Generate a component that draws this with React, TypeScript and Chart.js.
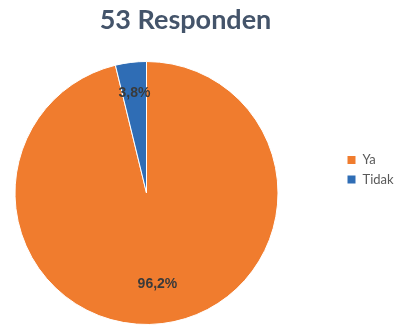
import React, { useEffect, useRef } from "react";
import { Chart, registerables } from "chart.js";

Chart.register(...registerables);

const titleText = "53 Responden";
const categories = ["Ya", "Tidak"];
const values = [96.2, 3.8];
const sliceColors = ["#F07C2E", "#2F6DB5"];
const labelRadiusFrac = [0.7, 0.765];

const sliceLabelPlugin = {
  id: "sliceLabels",
  afterDatasetsDraw(chart: any) {
    const ctx = chart.ctx;
    const meta = chart.getDatasetMeta(0);
    ctx.save();
    ctx.font = "bold 14px 'Liberation Sans', Arial, sans-serif";
    ctx.fillStyle = "#3a3a3a";
    ctx.textAlign = "center";
    ctx.textBaseline = "middle";
    meta.data.forEach((arc: any, i: number) => {
      const p = arc.getProps(["x", "y", "startAngle", "endAngle", "outerRadius"], true);
      const mid = (p.startAngle + p.endAngle) / 2;
      const r = p.outerRadius * labelRadiusFrac[i];
      const txt = values[i].toFixed(1).replace(".", ",") + "%";
      ctx.fillText(txt, p.x + Math.cos(mid) * r, p.y + Math.sin(mid) * r);
    });
    ctx.restore();
  },
};

export default function App() {
  const canvasRef = useRef<HTMLCanvasElement | null>(null);

  useEffect(() => {
    if (!canvasRef.current) return;
    const chart = new Chart(canvasRef.current, {
      type: "pie",
      data: {
        labels: categories,
        datasets: [
          {
            data: values,
            backgroundColor: sliceColors,
            borderColor: "#ffffff",
            borderWidth: 1,
          },
        ],
      },
      options: {
        responsive: true,
        maintainAspectRatio: false,
        animation: false,
        events: [],
        layout: { padding: { left: -30, right: 0, top: 0, bottom: 0 } },
        plugins: {
          tooltip: { enabled: false },
          title: {
            display: true,
            text: titleText,
            color: "#44546A",
            font: { family: "Lato", size: 27, weight: "bold", lineHeight: 1.2 },
            padding: { top: 4, bottom: 24.6 },
          },
          subtitle: {
            display: true,
            text: " ",
            position: "right",
            fullSize: false,
            weight: 500,
            font: { size: 10, lineHeight: 1 },
            padding: { top: 18.75, bottom: 18.75 },
          },
          legend: {
            display: true,
            position: "right",
            maxWidth: 60.5,
            title: {
              display: true,
              text: " ",
              font: { size: 10, lineHeight: 1.45 },
              padding: 0,
            },
            labels: {
              boxWidth: 9,
              boxHeight: 9,
              padding: 6.5,
              color: "#595959",
              font: { family: "Lato", size: 13 },
            },
          },
        },
      },
      plugins: [sliceLabelPlugin],
    });
    return () => chart.destroy();
  }, []);

  return (
    <div style={{ position: "absolute", left: 0, top: 0, width: 401, height: 325, background: "#ffffff" }}>
      <canvas ref={canvasRef} />
    </div>
  );
}
